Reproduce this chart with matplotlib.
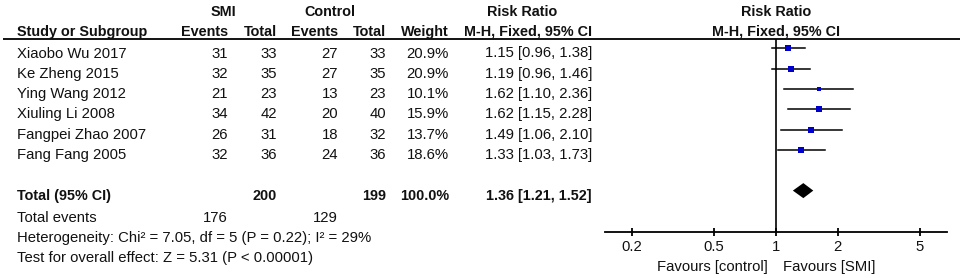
import matplotlib
matplotlib.use("Agg")
import matplotlib.pyplot as plt
import numpy as np

plt.rcParams['font.family'] = ['Liberation Sans', 'DejaVu Sans']

studies = ["Xiaobo Wu 2017", "Ke Zheng 2015", "Ying Wang 2012",
           "Xiuling Li 2008", "Fangpei Zhao 2007", "Fang Fang 2005"]
smi_events = [31, 32, 21, 34, 26, 32]
smi_total = [33, 35, 23, 42, 31, 36]
ctrl_events = [27, 27, 13, 20, 18, 24]
ctrl_total = [33, 35, 23, 40, 32, 36]
weight = [20.9, 20.9, 10.1, 15.9, 13.7, 18.6]
rr = [1.15, 1.19, 1.62, 1.62, 1.49, 1.33]
rr_lo = [0.96, 0.96, 1.10, 1.15, 1.06, 1.03]
rr_hi = [1.38, 1.46, 2.36, 2.28, 2.10, 1.73]

total_smi = 200
total_ctrl = 199
total_weight = 100.0
total_rr = 1.36
total_lo = 1.21
total_hi = 1.52
events_smi = 176
events_ctrl = 129
heterogeneity = "Heterogeneity: Chi² = 7.05, df = 5 (P = 0.22); I² = 29%"
overall = "Test for overall effect: Z = 5.31 (P < 0.00001)"
xticks = [0.2, 0.5, 1, 2, 5]
xticklabels = ["0.2", "0.5", "1", "2", "5"]

W, H = 964, 278
fig = plt.figure(figsize=(W / 100, H / 100), dpi=100)

# text layer in pixel coordinates
ax_t = fig.add_axes([0, 0, 1, 1])
ax_t.set_xlim(0, W)
ax_t.set_ylim(H, 0)
ax_t.axis('off')

FS = 10.7
FSB = 10.4
TC = '#111111'

def txt(x, y, s, ha='left', bold=False, **kw):
    ax_t.text(x, y, s, ha=ha, va='baseline', fontsize=FSB if bold else FS,
              color=TC, fontweight='bold' if bold else 'normal', **kw)

# headers
txt(223, 15.7, "SMI", ha='center', bold=True)
txt(330, 15.7, "Control", ha='center', bold=True)
txt(522, 15.7, "Risk Ratio", ha='center', bold=True)
txt(776, 15.7, "Risk Ratio", ha='center', bold=True)
txt(17, 35.7, "Study or Subgroup", bold=True)
txt(228, 35.7, "Events", ha='right', bold=True)
txt(277, 35.7, "Total", ha='right', bold=True)
txt(338, 35.7, "Events", ha='right', bold=True)
txt(386, 35.7, "Total", ha='right', bold=True)
txt(449, 35.7, "Weight", ha='right', bold=True)
txt(592, 35.7, "M-H, Fixed, 95% CI", ha='right', bold=True)
txt(776, 35.7, "M-H, Fixed, 95% CI", ha='center', bold=True)
ax_t.plot([3, 960], [39, 39], color='black', lw=1.3, solid_capstyle='butt')

row_h = 20.33
base0 = 57.5
for i, name in enumerate(studies):
    y = base0 + row_h * i
    txt(17, y, name)
    txt(228, y, str(smi_events[i]), ha='right')
    txt(277, y, str(smi_total[i]), ha='right')
    txt(338, y, str(ctrl_events[i]), ha='right')
    txt(386, y, str(ctrl_total[i]), ha='right')
    txt(449, y, f"{weight[i]:.1f}%", ha='right')
    txt(592, y, f"{rr[i]:.2f} [{rr_lo[i]:.2f}, {rr_hi[i]:.2f}]", ha='right')

yt = base0 + row_h * 7
txt(17, yt, "Total (95% CI)", bold=True)
txt(277, yt, str(total_smi), ha='right', bold=True)
txt(386, yt, str(total_ctrl), ha='right', bold=True)
txt(449, yt, f"{total_weight:.1f}%", ha='right', bold=True)
txt(592, yt, f"{total_rr:.2f} [{total_lo:.2f}, {total_hi:.2f}]", ha='right', bold=True)

txt(17, 221.7, "Total events")
txt(228, 221.7, str(events_smi), ha='right')
txt(338, 221.7, str(events_ctrl), ha='right')
txt(17, 241.7, heterogeneity)
txt(17, 261.7, overall)

txt(768, 270.7, "Favours [control]", ha='right')
txt(783, 270.7, "Favours [SMI]", ha='left')

# forest plot axes
x0, x1 = 605, 947
ytop, ybot = 39, 231.7
ax_f = fig.add_axes([x0 / W, 1 - ybot / H, (x1 - x0) / W, (ybot - ytop) / H])
ax_f.set_xscale('log')
ax_f.set_xlim(0.1485, 6.766)
ax_f.set_ylim((ybot - 48.3) / row_h, (ytop - 48.3) / row_h)
ax_f.patch.set_visible(False)
for s in ['top', 'left', 'right']:
    ax_f.spines[s].set_visible(False)
ax_f.spines['bottom'].set_linewidth(1.3)
ax_f.set_yticks([])
ax_f.set_xticks(xticks)
ax_f.set_xticklabels(xticklabels)
ax_f.xaxis.set_minor_locator(matplotlib.ticker.NullLocator())
ax_f.tick_params(axis='x', direction='inout', length=5.5, width=1.3,
                 labelsize=FS, pad=3.0, labelcolor=TC)
ax_f.axvline(1, color='black', lw=1.2)

for i in range(len(studies)):
    ax_f.plot([rr_lo[i], rr_hi[i]], [i, i], color='black', lw=1.1)
    ax_f.plot(rr[i], i, marker='s', color='#0000cc',
              markersize=1.1 * np.sqrt(weight[i]), markeredgewidth=0)

yd = 7
dh = 0.37
ax_f.fill([total_lo, total_rr, total_hi, total_rr],
          [yd, yd - dh, yd, yd + dh], color='black', lw=0)

fig.savefig("out.png", dpi=100)
